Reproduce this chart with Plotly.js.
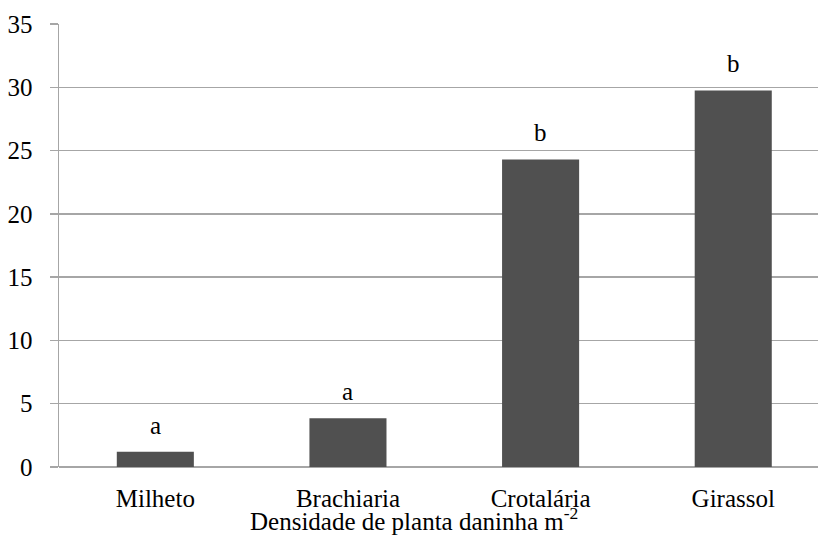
<!DOCTYPE html>
<html>
<head>
<meta charset="utf-8">
<script src="https://cdn.plot.ly/plotly-3.0.1.min.js"></script>
<style>
html,body{margin:0;padding:0;background:#fff;}
#chart{width:818px;height:546px;}
#chart svg text, #chart svg tspan { font-family: "Liberation Serif", "Times New Roman", serif !important; }
</style>
</head>
<body>
<div id="chart"></div>
<script>
const categories = ["Milheto", "Brachiaria", "Crotalária", "Girassol"];
const values = [1.2, 3.85, 24.3, 29.75];
const letters = ["a", "a", "b", "b"];
const yTicks = [0, 5, 10, 15, 20, 25, 30, 35];
const xTitle = "Densidade de planta daninha m<sup>-2</sup>";

const FAMILY = "Liberation Serif";
const FS = 25;
const gridColor = "#a6a6a6";

const trace = {
  type: "bar",
  x: categories.map((c, i) => i),
  y: values,
  marker: {color: "#505050", line: {width: 0}},
  width: 0.4,
  hoverinfo: "none"
};

const annotations = categories.map((c, i) => ({
  x: i, y: values[i], xref: "x", yref: "y",
  text: letters[i], showarrow: false,
  yanchor: "bottom", yshift: 11,
  font: {family: FAMILY, size: FS, color: "#000"}
}));
annotations.push({
  xref: "paper", yref: "paper", x: 0.468, y: 0,
  yanchor: "top", yshift: -34,
  text: xTitle, showarrow: false,
  font: {family: FAMILY, size: FS, color: "#000"}
});

const layout = {
  width: 818, height: 546,
  margin: {l: 59, r: 0, t: 24, b: 79, pad: 0},
  paper_bgcolor: "#fff", plot_bgcolor: "#fff",
  showlegend: false,
  xaxis: {
    range: [-0.5, 3.44],
    tickmode: "array",
    tickvals: categories.map((c, i) => i),
    ticktext: categories,
    showgrid: false, zeroline: false,
    showline: false, ticks: "",
    ticklabelstandoff: 14,
    tickfont: {family: FAMILY, size: FS, color: "#000"}
  },
  yaxis: {
    range: [0, 35],
    tickmode: "array",
    tickvals: yTicks,
    showgrid: true, gridcolor: gridColor, gridwidth: 1.5,
    zeroline: true, zerolinecolor: gridColor, zerolinewidth: 1.5,
    showline: true, linecolor: gridColor, linewidth: 1.5,
    ticks: "outside", ticklen: 8, tickcolor: gridColor, tickwidth: 1.5,
    ticklabelstandoff: 12,
    tickfont: {family: FAMILY, size: FS, color: "#000"}
  },
  annotations: annotations
};

Plotly.newPlot("chart", [trace], layout, {staticPlot: true});
</script>
</body>
</html>
